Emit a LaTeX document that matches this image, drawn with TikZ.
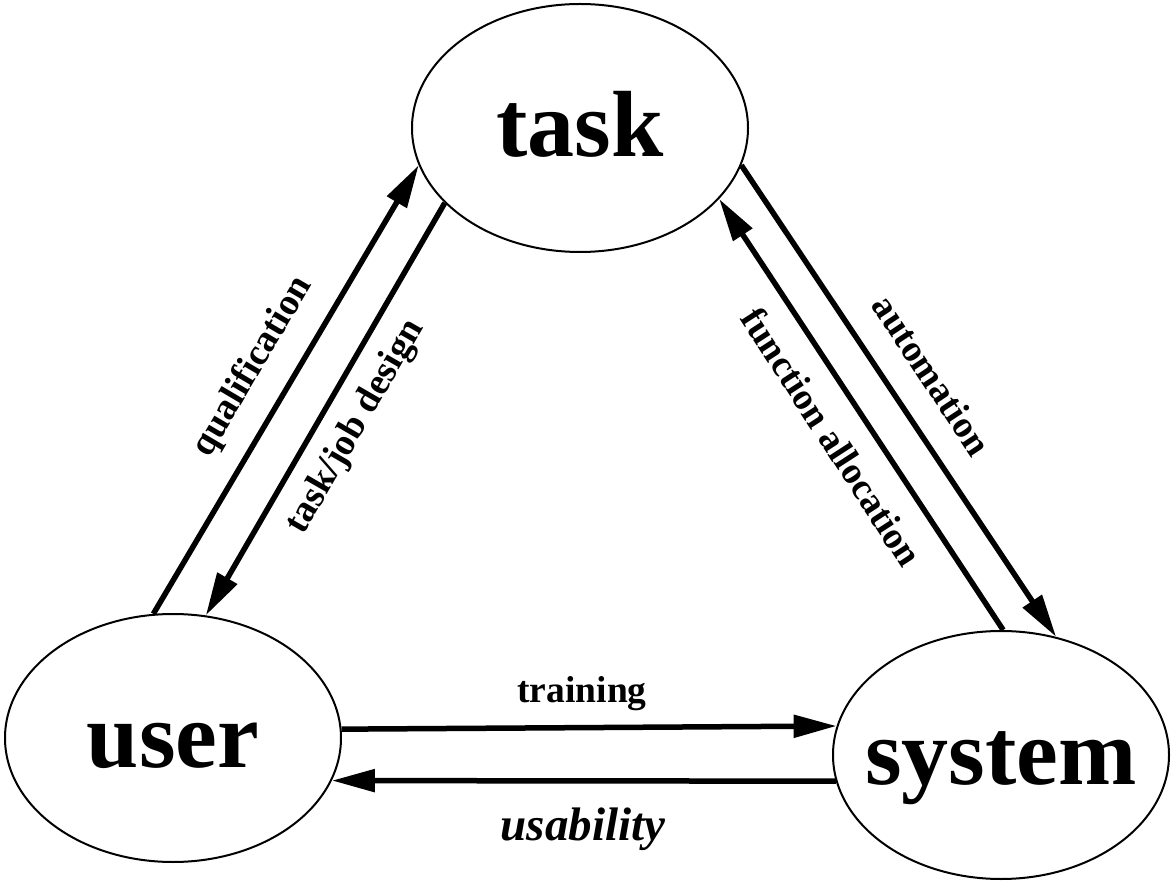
\documentclass[tikz,border=0pt]{standalone}
\usepackage{fontspec}
\setmainfont{Liberation Serif}
\usepackage{tikz}
\usetikzlibrary{shapes}
\usetikzlibrary{arrows.meta}

\begin{document}
\begin{tikzpicture}[x=1pt,y=-1pt,
    corner/.style={ellipse,draw,line width=2pt,minimum width=336pt,minimum height=248pt,
      inner sep=0pt,text height=58pt,text depth=0pt,font=\fontsize{94}{94}\selectfont\bfseries},
    flow/.style={line width=5.5pt,-{Triangle[length=43pt,width=22pt]}},
    lab/.style={inner sep=0pt,font=\fontsize{37.5}{40}\selectfont\bfseries}]
  \useasboundingbox (0,0) rectangle (1171,882);
  %%% the three corners
  % zero width text, so the ellipse keeps its size
  \node[corner] (task) at (580,128) {\makebox[0pt]{task}};
  \node[corner] (user) at (173,738) {\makebox[0pt]{user}};
  \node[corner] (system) at (1001,755) {\makebox[0pt]{system}};
  %% user <-> task
  \draw[flow] (user.99) -- (task.193.6);
  \draw[flow] (task.209.2) -- (user.75);
  \node[lab,rotate=59.5] (qual) at (253,367) {qualification};
  \node[lab,rotate=60] (design) at (356,427) {task/job design};
  %% task <-> system
  \draw[flow] (task.347.9) -- (system.65);
  \draw[flow] (system.89.5) -- (task.333.1);
  \node[lab,rotate=-56.5] (auto) at (932,375) {automation};
  \node[lab,rotate=-57] (alloc) at (832,437) {function allocation};
  %% user <-> system
  \draw[flow] (user.3.4) -- (system.170.9);
  \draw[flow] (system.189.1) -- (user.345);
  \node[lab,anchor=base] (train) at (582,702) {training};
  \node[lab,anchor=base,font=\fontsize{47}{50}\selectfont\bfseries\itshape] (usab) at (583,840) {usability};
\end{tikzpicture}
\end{document}
